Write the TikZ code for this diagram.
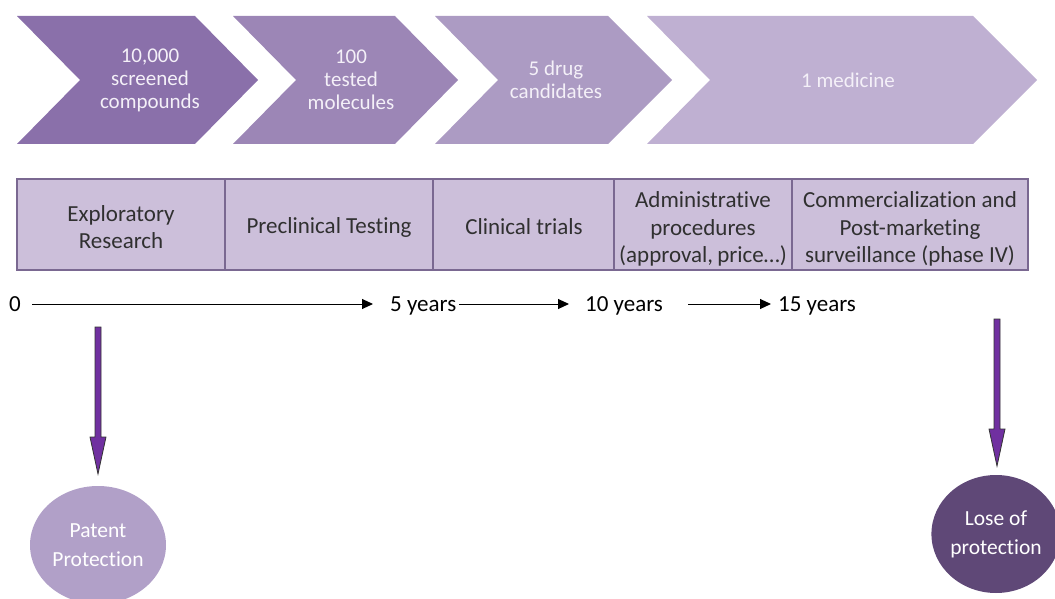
\documentclass[tikz,border=0pt]{standalone}
\usepackage{fontspec}
\setmainfont{Carlito}[Ligatures=NoCommon]
\usetikzlibrary{arrows.meta,shapes.geometric}
\definecolor{cA}{HTML}{8A70AA}
\definecolor{cB}{HTML}{9C86B6}
\definecolor{cC}{HTML}{AC9BC3}
\definecolor{cD}{HTML}{BFB0D2}
\definecolor{tabfill}{HTML}{CCBFDA}
\definecolor{tabline}{HTML}{7A6891}
\definecolor{arrowfill}{HTML}{7030A0}
\definecolor{patfill}{HTML}{B1A0C8}
\definecolor{losefill}{HTML}{5F4877}
\definecolor{tabtext}{HTML}{303030}
\definecolor{chevtext}{HTML}{F4F0F8}
\begin{document}
\begin{tikzpicture}[x=1pt,y=-1pt,
  chevtxt/.style={text=chevtext,font=\fontsize{21}{23}\selectfont,align=center},
  tabcell/.style={draw=tabline,line width=1.2pt,fill=tabfill},
  tabtxt/.style={text=tabtext,font=\fontsize{23}{27.5}\selectfont,align=center},
  timetxt/.style={text=black,font=\fontsize{23}{24}\selectfont,inner sep=0pt,anchor=base west},
  timearrow/.style={line width=1pt,-{Triangle[length=11pt,width=10pt]}},
  fatarrow/.style={fill=arrowfill,draw=black!80,line width=0.8pt},
  circtxt/.style={text=white,font=\fontsize{21.5}{29}\selectfont,align=center}
]
\useasboundingbox (0,0) rectangle (1055,599);
% chevrons
\fill[cA] (17,16) -- (195,16) -- (258,80) -- (195,144) -- (17,144) -- (80,80) -- cycle;
\fill[cB] (233,16) -- (395,16) -- (458,80) -- (395,144) -- (233,144) -- (296,80) -- cycle;
\fill[cC] (435,16) -- (608,16) -- (672,80) -- (608,144) -- (435,144) -- (498,80) -- cycle;
\fill[cD] (647,16) -- (973,16) -- (1037,80) -- (973,144) -- (647,144) -- (710,80) -- cycle;
\node[chevtxt] (c1) at (150,80) {10,000\\screened\\compounds};
\node[chevtxt] (c2) at (351,80) {100\\tested\\molecules};
\node[chevtxt] (c3) at (556,80) {5 drug\\candidates};
\node[chevtxt] (c4) at (848,80) {1 medicine};
% table
\draw[tabcell] (17,179) rectangle (225,270);
\draw[tabcell] (225,179) rectangle (433,270);
\draw[tabcell] (433,179) rectangle (614,270);
\draw[tabcell] (614,179) rectangle (792,270);
\draw[tabcell] (792,179) rectangle (1028,270);
\node[tabtxt] (t1) at (121,227) {Exploratory\\Research};
\node[tabtxt] (t2) at (329,227) {Preclinical Testing};
\node[tabtxt] (t3) at (524,227) {Clinical trials};
\node[tabtxt] (t4) at (703,229) {Administrative\\procedures\\(approval,\hspace{-1pt} price…)};
\node[tabtxt] (t5) at (910,229) {Commercialization and\\Post-marketing\\surveillance (phase IV)};
% timeline
\node[timetxt] (y0) at (9,311) {0};
\node[timetxt] (y5) at (390,311) {5 years};
\node[timetxt] (y10) at (585,311) {10 years};
\node[timetxt] (y15) at (778,311) {15 years};
\coordinate (a0) at (32,304);
\coordinate (a5) at (459,304);
\coordinate (e5) at (373,304);
\coordinate (e10) at (569,304);
\coordinate (a10) at (688,304);
\coordinate (e15) at (771,304);
\draw[timearrow] (a0) -- (e5);
\draw[timearrow] (a5) -- (e10);
\draw[timearrow] (a10) -- (e15);
% circles
\node[ellipse,fill=patfill,minimum width=136pt,minimum height=118pt,inner sep=0pt,circtxt] (pat) at (98,545) {Patent\\Protection};
\node[ellipse,fill=losefill,minimum width=124pt,minimum height=118pt,inner sep=0pt,circtxt] (lose) at (996,534) {Lose of\\protection};
% fat arrows
\draw[fatarrow] (95,327) -- (101,327) -- (101,437) -- (106,437) -- (98,474) -- (90,437) -- (95,437) -- cycle;
\draw[fatarrow] (994,319) -- (1000,319) -- (1000,429) -- (1005,429) -- (997,466) -- (989,429) -- (994,429) -- cycle;
\end{tikzpicture}
\end{document}
